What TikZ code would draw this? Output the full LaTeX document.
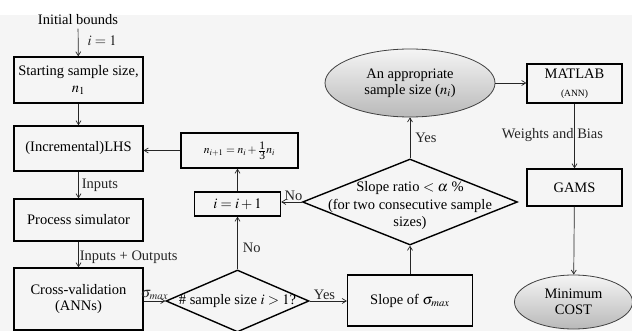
\documentclass[tikz,border=0pt]{standalone}
\usepackage{amsmath}
\usepackage{mathptmx}
\usepackage{fontspec}
\setmainfont{Liberation Serif}
\usetikzlibrary{positioning,shapes.geometric,arrows.meta}

\begin{document}
\begin{tikzpicture}[
	x=1pt, y=-1pt,
	font=\fontsize{14.5}{16.5}\selectfont,
	% Hộp chữ nhật
	box/.style={
		rectangle, draw=black, line width=1.4pt,
		inner sep=0pt, align=center
	},
	% Hình thoi quyết định
	decision/.style={
		diamond, draw=black, line width=1.4pt, inner sep=0pt
	},
	% Ellipse kết quả (tô xám)
	terminal/.style={
		ellipse, draw=black!75, line width=0.8pt, inner sep=0pt,
		top color=gray!8, bottom color=gray!55, align=center
	},
	% Mũi tên luồng
	flow_arrow/.style={
		-{Straight Barb[length=4pt,width=5pt]}, line width=0.7pt, black!85
	},
	% Nhãn trên mũi tên
	lbl/.style={inner sep=1pt}
	]
	
	\useasboundingbox (0,0) rectangle (632,331);
	\fill[black!4] (0,15) rectangle (632,331);
	
	% --- CỘT TRÁI ---
	\node (init) at (78,20) {Initial bounds};
	\node[box, minimum width=129pt, minimum height=46pt] (start) at (78.5,80) {Starting sample size,\\$n_1$};
	\node[box, minimum width=129pt, minimum height=45pt] (lhs) at (78.5,148.5) {(Incremental)LHS};
	\node[box, minimum width=129pt, minimum height=42pt] (sim) at (78.5,220) {Process simulator};
	\node[box, minimum width=129pt, minimum height=62pt] (cv) at (78.5,299) {Cross-validation\\(ANNs)};
	
	\draw[flow_arrow] (init) -- node[lbl, right=8pt, yshift=2pt] {$i=1$} (start);
	\draw[flow_arrow] (start) -- (lhs);
	\draw[flow_arrow] (lhs) -- node[lbl, right=2pt] {Inputs} (sim);
	\draw[flow_arrow] (sim) -- node[lbl, right=0pt, yshift=-3pt] {Inputs + Outputs} (cv);
	
	% --- CỘT GIỮA ---
	\node[decision, minimum width=143pt, minimum height=62pt] (chk) at (237.5,301) {};
	\node (chk_txt) at (chk) {\# sample size $i>1$?};
	\node[box, minimum width=86pt, minimum height=24pt] (inc) at (237.5,204) {$i=i+1$};
	\node[box, minimum width=117pt, minimum height=35pt, font=\fontsize{11.5}{14}\selectfont] (upd) at (239.5,150.5) {$n_{i+1}=n_i+\frac{\mbox{1}}{\mbox{3}}n_i$};
	
	\draw[flow_arrow] (cv.east |- chk.west) -- node[lbl, above] {$\sigma_{max}$} (chk.west);
	\draw[flow_arrow] (chk.north) -- node[lbl, right=4pt, pos=0.4] {No} (inc.south);
	\draw[flow_arrow] (inc.north) -- (inc.north |- upd.south);
	\draw[flow_arrow] (upd.west) -- (lhs.east |- upd.west);
	
	% --- CỘT PHẢI ---
	\node[box, minimum width=125pt, minimum height=51pt] (slope) at (410,300.5) {Slope of $\sigma_{max}$};
	\node[decision, minimum width=215pt, minimum height=86pt] (ratio) at (410,202) {};
	\node[align=center, font=\fontsize{14.5}{17.5}\selectfont] (ratio_txt) at ([yshift=-4pt]ratio.center) {Slope ratio $<\alpha$ \%\\(for two consecutive sample\\sizes)};
	\node[terminal, minimum width=170pt, minimum height=68pt] (appr) at (410,83) {An appropriate\\sample size ($n_i$)};
	
	\draw[flow_arrow] (chk.east) -- node[lbl, above, pos=0.4] {Yes} (slope.west |- chk.east);
	\draw[flow_arrow] (slope.north) -- (ratio.south);
	\draw[flow_arrow] (ratio.west) -- node[lbl, above, pos=0.4] {No} (inc.east |- ratio.west);
	\draw[flow_arrow] (ratio.north) -- node[lbl, right=4pt] {Yes} (appr.south);
	
	% --- MATLAB / GAMS ---
	\node[box, minimum width=95pt, minimum height=39pt] (matlab) at (574.5,83.5) {MATLAB\\[2pt]{\fontsize{9.5}{10}\selectfont (ANN)}};
	\node[box, minimum width=95pt, minimum height=37pt] (gams) at (574.5,187.5) {GAMS};
	\node[terminal, minimum width=118pt, minimum height=54pt] (cost) at (573.5,302) {Minimum\\COST};
	
	\draw[flow_arrow] (appr.east) -- (matlab.west |- appr.east);
	\draw[flow_arrow] (matlab) -- node[lbl, pos=0.48, xshift=-22pt] {Weights and Bias} (gams);
	\draw[flow_arrow] (gams) -- (cost);
	
\end{tikzpicture}
\end{document}
